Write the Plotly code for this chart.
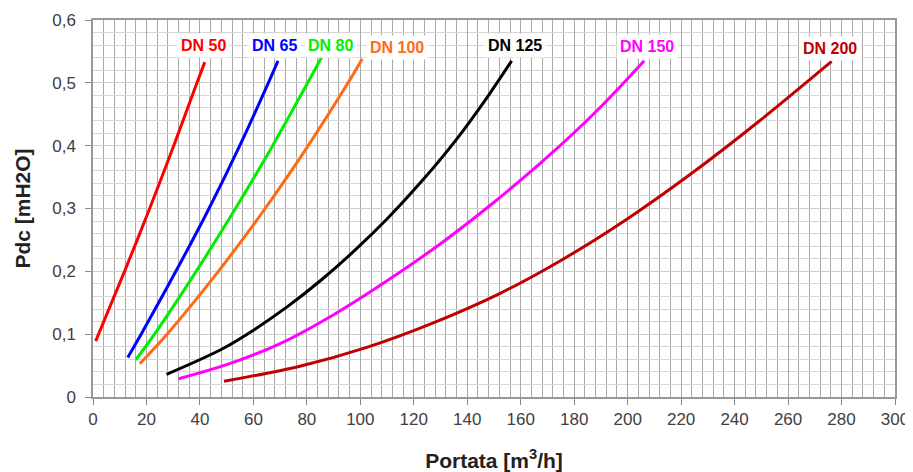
import plotly.graph_objects as go

# ---- data ----
names = ["DN 50", "DN 65", "DN 80", "DN 100", "DN 125", "DN 150", "DN 200"]
colors = ["#ff0000", "#0000ff", "#00ee00", "#ff6a13", "#000000", "#ff00ff", "#c00000"]

dn50_x = [1.0, 11.8, 21.2, 30.2, 38.9, 41.8]
dn50_y = [0.089, 0.200, 0.300, 0.400, 0.500, 0.533]

dn65_x = [13.0, 18.0, 31.0, 43.4, 54.9, 65.6, 69.2]
dn65_y = [0.063, 0.100, 0.200, 0.300, 0.400, 0.500, 0.535]

dn80_x = [16.0, 23.0, 38.6, 53.3, 67.2, 80.3, 85.4]
dn80_y = [0.059, 0.100, 0.200, 0.300, 0.400, 0.500, 0.540]

dn100_x = [17.5, 27.7, 46.9, 64.4, 80.5, 95.4, 100.7]
dn100_y = [0.053, 0.100, 0.200, 0.300, 0.400, 0.500, 0.538]

dn125_x = [27.5, 48.1, 60.6, 73.1, 85.6, 98.1, 110.6, 123.1, 135.6, 148.1, 156.6]
dn125_y = [0.036, 0.076, 0.108, 0.145, 0.187, 0.234, 0.286, 0.344, 0.408, 0.481, 0.535]

dn150_x = [32.0, 50.0, 70.0, 90.0, 110.0, 130.0, 150.0, 170.0, 190.0, 206.2]
dn150_y = [0.029, 0.0515, 0.085, 0.131, 0.185, 0.244, 0.310, 0.382, 0.462, 0.535]

dn200_x = [49.0, 77.4, 102.4, 127.3, 152.3, 174.7, 199.7, 224.6, 249.5, 276.3]
dn200_y = [0.025, 0.049, 0.079, 0.118, 0.165, 0.2165, 0.283, 0.358, 0.440, 0.534]

label_x = [41.5, 68.0, 88.7, 113.9, 157.9, 207.3, 275.5]
label_y = [0.560, 0.560, 0.560, 0.557, 0.560, 0.558, 0.554]

x_ticks = list(range(0, 301, 20))
y_tickvals = [0, 0.1, 0.2, 0.3, 0.4, 0.5, 0.6]
y_ticktext = ["0", "0,1", "0,2", "0,3", "0,4", "0,5", "0,6"]

series = [
    (dn50_x, dn50_y), (dn65_x, dn65_y), (dn80_x, dn80_y), (dn100_x, dn100_y),
    (dn125_x, dn125_y), (dn150_x, dn150_y), (dn200_x, dn200_y),
]

fig = go.Figure()
for (xs, ys), name, col in zip(series, names, colors):
    fig.add_trace(go.Scatter(
        x=xs, y=ys, mode="lines", name=name,
        line=dict(color=col, width=3, shape="spline", smoothing=0.9),
        showlegend=False, hoverinfo="skip",
    ))

font_family = "Liberation Sans, Arial"
for name, col, lx, ly in zip(names, colors, label_x, label_y):
    fig.add_annotation(
        x=lx, y=ly, text="<b>%s</b>" % name, showarrow=False,
        font=dict(family=font_family, size=16, color=col),
        bgcolor="white", borderpad=3,
    )

# page body has an 8px margin: size the figure so the plot area lands at
# x 93..895, y 20..397 in the 913x472 window
fig.update_layout(
    width=905, height=464,
    margin=dict(l=85, r=18, t=12, b=75),
    paper_bgcolor="white", plot_bgcolor="white",
    font=dict(family=font_family, size=17, color="#404040"),
    xaxis=dict(
        range=[0, 300], tickvals=x_ticks, ticks="outside", ticklen=6,
        tickcolor="#888888", showline=True, linecolor="#999999", linewidth=1.5,
        mirror=True, showgrid=True, gridcolor="#a8a8a8", gridwidth=1,
        minor=dict(dtick=4, tick0=0, showgrid=True, gridcolor="#a8a8a8", gridwidth=1),
        zeroline=False, automargin=False,
        title=dict(text="<b>Portata [m<sup>3</sup>/h]</b>",
                   font=dict(size=21, color="#222222"), standoff=28),
        tickfont=dict(size=17, color="#404040"),
    ),
    yaxis=dict(
        range=[0, 0.6], tickvals=y_tickvals, ticktext=y_ticktext, ticks="outside",
        ticklen=6, tickcolor="#888888", showline=True, linecolor="#999999",
        linewidth=1.5, mirror=True, showgrid=True, gridcolor="#cccccc", gridwidth=1,
        minor=dict(dtick=0.02, tick0=0, showgrid=True, gridcolor="#d6d6d6", gridwidth=1),
        zeroline=False, automargin=False, ticklabelstandoff=6,
        title=dict(text="<b>Pdc [mH2O]</b>",
                   font=dict(size=21, color="#222222"), standoff=16),
        tickfont=dict(size=17, color="#404040"),
    ),
)

fig.write_html("out.html")
